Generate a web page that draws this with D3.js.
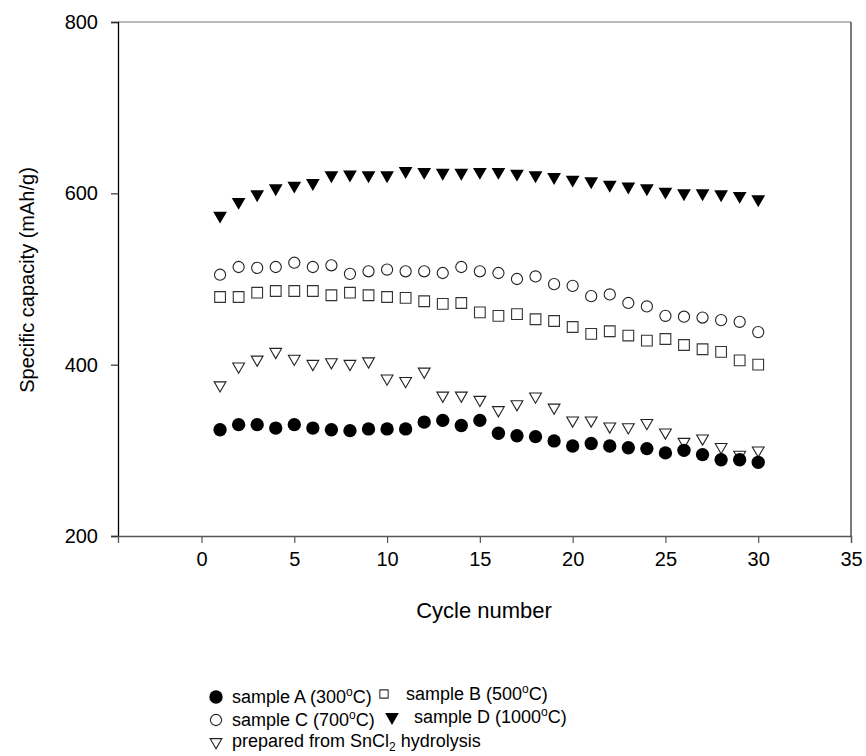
<!DOCTYPE html>
<html><head><meta charset="utf-8">
<script src="https://cdn.jsdelivr.net/npm/d3@7/dist/d3.min.js"></script>
<style>
body{margin:0;background:#fff}
text{font-family:"Liberation Sans",Arial,Helvetica,sans-serif;fill:#000}
</style>
</head><body>
<svg id="chart" width="866" height="756"></svg>
<script>
const cycles = [1,2,3,4,5,6,7,8,9,10,11,12,13,14,15,16,17,18,19,20,21,22,23,24,25,26,27,28,29,30];
const sampleA = [324,330,330,326,330,326,324,323,325,325,325,333,335,329,335,320,317,316,311,305,308,305,303,302,297,300,295,289,289,286];
const sampleB = [479,479,484,486,486,486,481,484,481,479,478,474,471,472,461,457,459,453,451,444,436,439,434,428,430,423,418,415,405,400];
const sampleC = [505,514,513,514,519,514,516,506,509,511,509,509,507,514,509,507,500,503,494,492,480,482,472,468,457,456,455,452,450,438];
const sampleD = [574,590,599,606,609,612,621,622,621,621,626,625,624,624,625,625,623,621,619,616,614,610,608,606,602,600,600,599,597,593];
const sampleSnCl2 = [376,398,406,415,407,401,403,401,404,384,381,392,364,364,359,347,354,363,350,335,335,328,327,332,321,310,314,304,295,300];
const xTicks = [0,5,10,15,20,25,30,35];
const yTicks = [200,400,600,800];

const svg = d3.select("#chart");
const L = 118, R = 851, T = 22, B = 536;
const x = d3.scaleLinear().domain([-4.5, 35]).range([L, R]);
const y = d3.scaleLinear().domain([200, 800]).range([B, T]);

// frame
svg.append("line").attr("x1",L).attr("x2",R).attr("y1",T).attr("y2",T).attr("stroke","#777").attr("stroke-width",1.2);
svg.append("line").attr("x1",R).attr("x2",R).attr("y1",T).attr("y2",B).attr("stroke","#222").attr("stroke-width",1.2);

const yAxis = svg.append("g").attr("transform",`translate(${L},0)`)
  .call(d3.axisLeft(y).tickValues(yTicks).tickSize(7).tickPadding(13).tickFormat(d3.format("d")));
yAxis.select(".domain").attr("stroke","#000").attr("stroke-width",1.3);
yAxis.selectAll(".tick line").attr("stroke","#333").attr("stroke-width",1.2);
yAxis.selectAll(".tick text").attr("font-size",20).attr("font-family","Liberation Sans, Arial, sans-serif");

const xAxis = svg.append("g").attr("transform",`translate(0,${B})`)
  .call(d3.axisBottom(x).tickValues(xTicks).tickSize(7).tickPadding(9).tickFormat(d3.format("d")));
xAxis.select(".domain").attr("stroke","#555").attr("stroke-width",1.3);
xAxis.selectAll(".tick line").attr("stroke","#555").attr("stroke-width",1.2);
xAxis.selectAll(".tick text").attr("font-size",20).attr("font-family","Liberation Sans, Arial, sans-serif");

// titles
svg.append("text").attr("x",484).attr("y",618).attr("text-anchor","middle").attr("font-size",22).text("Cycle number");
svg.append("text").attr("transform","translate(34,280) rotate(-90)").attr("text-anchor","middle").attr("font-size",20).text("Specific capacity (mAh/g)");

// markers
const shapes = {
  filledCircle: {type:d3.symbolCircle, size:140, fill:"#000", stroke:"none", rot:0},
  openCircle: {type:d3.symbolCircle, size:98, fill:"#fff", stroke:"#222", rot:0},
  openSquare: {type:d3.symbolSquare, size:115, fill:"#fff", stroke:"#333", rot:0},
  filledTriDown: {type:d3.symbolTriangle, size:82, fill:"#000", stroke:"none", rot:180},
  openTriDown: {type:d3.symbolTriangle, size:60, fill:"#fff", stroke:"#222", rot:180}
};
const series = [
  {name:"D", values:sampleD, shape:"filledTriDown"},
  {name:"C", values:sampleC, shape:"openCircle"},
  {name:"B", values:sampleB, shape:"openSquare"},
  {name:"Sn", values:sampleSnCl2, shape:"openTriDown"},
  {name:"A", values:sampleA, shape:"filledCircle"}
];
function drawMark(g, sh, cx, cy, scale){
  const s = shapes[sh];
  g.append("path").attr("d", d3.symbol().type(s.type).size(s.size*(scale||1))())
   .attr("transform",`translate(${cx},${cy}) rotate(${s.rot})`)
   .attr("fill",s.fill).attr("stroke",s.stroke).attr("stroke-width",1.1);
}
series.forEach(se=>{
  const g = svg.append("g");
  cycles.forEach((c,i)=> drawMark(g, se.shape, x(c), y(se.values[i])));
});

// legend
const lg = svg.append("g");
const LF = 18;
function degText(px, py, pre, post){
  const el = lg.append("text").attr("x",px).attr("y",py).attr("font-size",LF);
  el.append("tspan").text(pre);
  el.append("tspan").attr("font-size",12).attr("dy",-7).text("o");
  el.append("tspan").attr("dy",7).text(post);
}
drawMark(lg,"filledCircle",216,697);
degText(232,703,"sample A (300","C)");
drawMark(lg,"openSquare",384,694,0.6);
degText(406,700,"sample B (500","C)");
drawMark(lg,"openCircle",216,720);
degText(232,726,"sample C (700","C)");
drawMark(lg,"filledTriDown",392,717);
degText(414,723,"sample D (1000","C)");
drawMark(lg,"openTriDown",216,742);
const t3 = lg.append("text").attr("x",232).attr("y",747).attr("font-size",LF);
t3.append("tspan").text("prepared from SnCl");
t3.append("tspan").attr("font-size",12).attr("dy",4).text("2");
t3.append("tspan").attr("dy",-4).text(" hydrolysis");
</script>
</body></html>
